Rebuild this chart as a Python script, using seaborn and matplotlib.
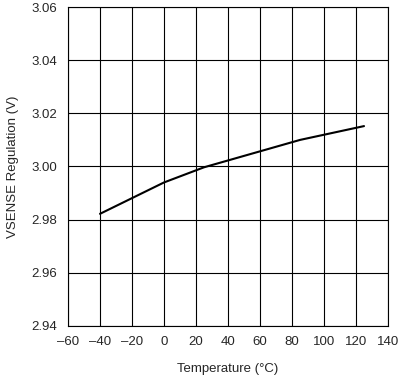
import matplotlib
matplotlib.use("Agg")
import matplotlib.pyplot as plt
import seaborn as sns
import pandas as pd

temperature = [-40, 0, 25, 85, 125]
vsense = [2.9822, 2.9940, 2.9997, 3.0100, 3.0152]
x_ticks = [-60, -40, -20, 0, 20, 40, 60, 80, 100, 120, 140]
y_ticks = [2.94, 2.96, 2.98, 3.00, 3.02, 3.04, 3.06]

sns.set_style("white")
plt.rcParams['font.family'] = ['Liberation Sans', 'DejaVu Sans']

df = pd.DataFrame({"Temperature": temperature, "VSENSE": vsense})

fig = plt.figure(figsize=(4.06, 3.75), dpi=100)
ax = fig.add_axes([0.1675, 0.1307, 0.7882, 0.8506])
sns.lineplot(data=df, x="Temperature", y="VSENSE", ax=ax, color="black", linewidth=1.5)

ax.set_xlim(-60, 140)
ax.set_ylim(2.94, 3.06)
ax.set_xticks(x_ticks)
ax.set_yticks(y_ticks)
ax.set_xticklabels([f"{v}".replace("-", "\u2013") for v in x_ticks], fontsize=9.5)
ax.set_yticklabels([f"{v:.2f}" for v in y_ticks], fontsize=9.5)
ax.grid(True, color="black", linewidth=0.8)
ax.tick_params(axis="x", length=0, pad=7)
ax.tick_params(axis="y", length=0, pad=8)
for s in ax.spines.values():
    s.set_color("black")
    s.set_linewidth(0.8)
ax.set_xlabel("Temperature (\u00b0C)", fontsize=9.5, labelpad=11)
ax.set_ylabel("VSENSE Regulation (V)", fontsize=9.5, labelpad=9)

fig.savefig("out.png", dpi=100)
